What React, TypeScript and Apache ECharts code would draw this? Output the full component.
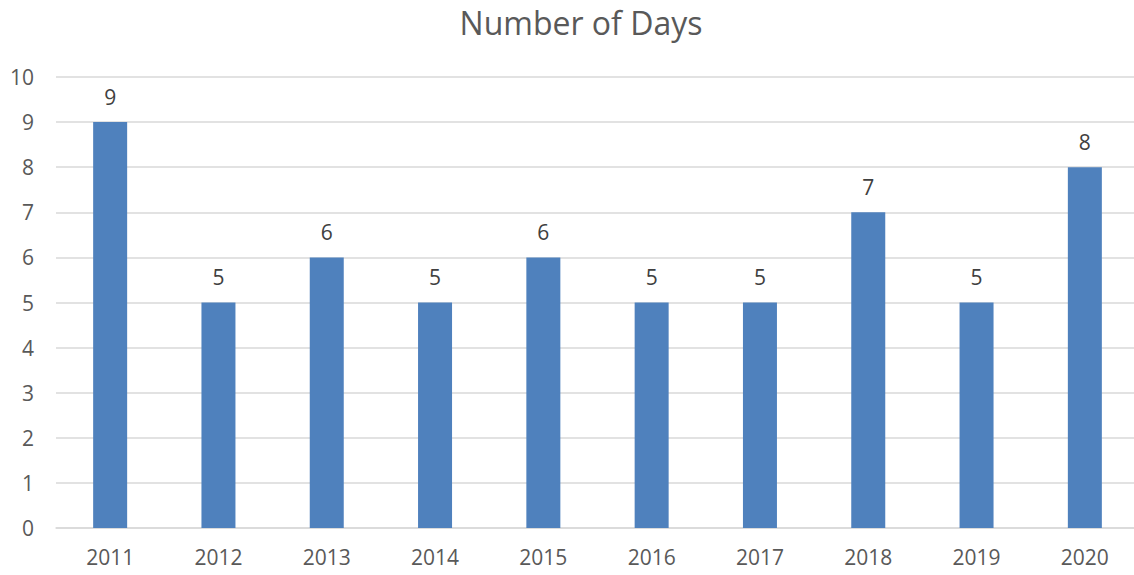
import React, { useEffect, useRef } from "react";
import * as echarts from "echarts";

const categories = ["2011", "2012", "2013", "2014", "2015", "2016", "2017", "2018", "2019", "2020"];
const days = [9, 5, 6, 5, 6, 5, 5, 7, 5, 8];
const yTicks = { min: 0, max: 10, interval: 1 };

export default function App() {
  const ref = useRef<HTMLDivElement>(null);
  useEffect(() => {
    if (!ref.current) return;
    const chart = echarts.init(ref.current, undefined, { renderer: "svg" });
    const font = "'Open Sans', 'Liberation Sans', sans-serif";
    chart.setOption({
      animation: false,
      textStyle: { fontFamily: font },
      title: {
        text: "Number of Days",
        left: 576,
        top: 1,
        textAlign: "center",
        textStyle: { fontSize: 32, fontWeight: "normal", color: "#595959", fontFamily: font },
      },
      grid: { left: 56, right: 1, top: 77, bottom: 47, containLabel: false },
      xAxis: {
        type: "category",
        data: categories,
        axisLine: { show: true, lineStyle: { color: "#D9D9D9", width: 1.5 } },
        axisTick: { show: false },
        axisLabel: { color: "#595959", fontSize: 21, margin: 18, fontFamily: font },
      },
      yAxis: {
        type: "value",
        min: yTicks.min,
        max: yTicks.max,
        interval: yTicks.interval,
        axisLine: { show: false },
        axisTick: { show: false },
        axisLabel: { color: "#595959", fontSize: 21, margin: 22, fontFamily: font },
        splitLine: { lineStyle: { color: "#D9D9D9", width: 1.5 } },
      },
      series: [
        {
          type: "bar",
          data: days,
          barWidth: 34,
          itemStyle: { color: "#4F81BD" },
          label: {
            show: true,
            position: "top",
            distance: 15,
            color: "#404040",
            fontSize: 21,
            fontFamily: font,
          },
        },
      ],
    });
    return () => chart.dispose();
  }, []);
  return (
    <div style={{ position: "absolute", left: 0, top: 0, width: 1134, height: 575, overflow: "hidden", background: "#fff" }}>
      <div ref={ref} style={{ width: 1140, height: 575 }} />
    </div>
  );
}
